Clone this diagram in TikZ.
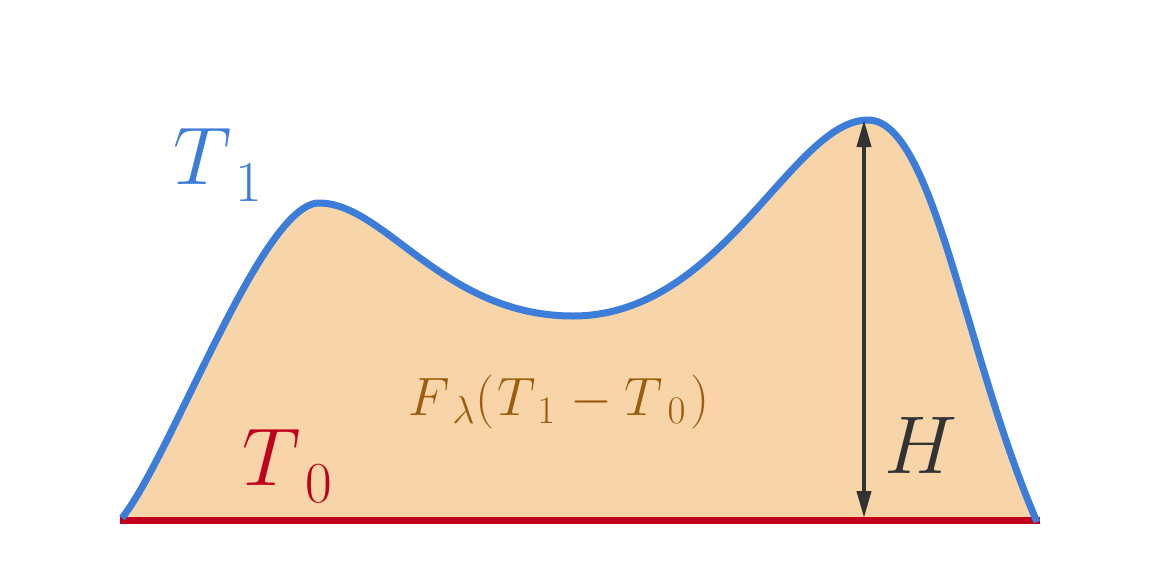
\RequirePackage{fix-cm}
\documentclass[tikz,border=0pt]{standalone}
\usetikzlibrary{arrows.meta}
\DeclareMathSizes{82}{82}{58}{41}
\DeclareMathSizes{54}{54}{39}{27}
\newcommand\lowsub[2]{_{\kern#1\lower5pt\hbox{$\scriptstyle#2$}}}
\definecolor{peach}{HTML}{F8D5A8}
\definecolor{cblue}{HTML}{3C7DD9}
\definecolor{cred}{HTML}{C0001A}
\definecolor{cgray}{HTML}{333333}
\definecolor{cbrown}{HTML}{9C5D10}
\tikzset{
  curvestyle/.style={draw=cblue, line width=7pt, line join=round},
  basestyle/.style={draw=cred, line width=7pt},
  heightarrow/.style={draw=cgray, line width=4pt, {Triangle[length=27pt,width=14pt]}-{Triangle[length=27pt,width=14pt]}},
  biglab/.style={inner sep=0pt, anchor=base west, font=\fontsize{82}{90}\selectfont},
  midlab/.style={inner sep=0pt, anchor=base west, font=\fontsize{54}{60}\selectfont}
}
\begin{document}
\begin{tikzpicture}[x=1pt,y=-1pt]
\useasboundingbox (0,0) rectangle (1160,560);
\coordinate (p0) at (122,518);
\coordinate (p1) at (319,203);
\coordinate (p2) at (573,316);
\coordinate (p3) at (868,120);
\coordinate (p4) at (1037,522);
\def\curvepath{(p0) .. controls (172,455) and (262,203) .. (p1)
  .. controls (385,203) and (443,316) .. (p2)
  .. controls (723,316) and (792,120) .. (p3)
  .. controls (934,120) and (965,356) .. (p4)}
\fill[peach] \curvepath -- cycle;
\coordinate (bl) at (120,520);
\coordinate (br) at (1040,520);
\draw[basestyle] (bl) -- (br);
\draw[curvestyle] \curvepath;
\coordinate (top) at (864,120);
\coordinate (bot) at (864,518);
\draw[heightarrow] (top) -- (bot);
\node[biglab, text=cblue] (t1) at (173,184) {$T\lowsub{15pt}{1}$};
\node[biglab, text=cred] (t0) at (242,485) {$T\lowsub{16pt}{0}$};
\node[biglab, text=cgray] (h) at (884,473) {$H$};
\node[midlab, text=cbrown] (f) at (408,415) {$F_{\kern10pt\lambda}(\kern3pt T_{\kern9pt 1}\kern3pt-T_{\kern12pt 0}\kern4pt)$};
\end{tikzpicture}
\end{document}
